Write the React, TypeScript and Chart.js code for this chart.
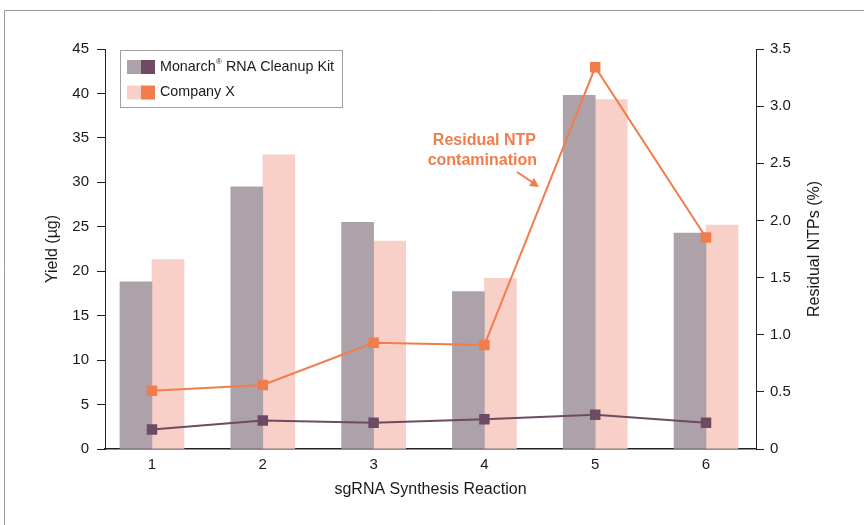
import React, { useEffect, useRef } from 'react';
import { Chart, registerables } from 'chart.js';
Chart.register(...registerables);

const categories = ['1', '2', '3', '4', '5', '6'];
const monarchYield = [18.8, 29.5, 25.5, 17.7, 39.8, 24.3];
const companyXYield = [21.3, 33.1, 23.4, 19.2, 39.3, 25.2];
const monarchNTP = [0.17, 0.25, 0.23, 0.26, 0.30, 0.23];
const companyXNTP = [0.51, 0.56, 0.93, 0.91, 3.34, 1.85];
const seriesNames = ['Monarch RNA Cleanup Kit', 'Company X'];
const xTitle = 'sgRNA Synthesis Reaction';
const yTitle = 'Yield (µg)';
const y1Title = 'Residual NTPs (%)';
const annotationLines = ['Residual NTP', 'contamination'];

const FONT = '"Liberation Sans", Arial, Helvetica, sans-serif';
const C_MON_BAR = '#ada2aa';
const C_MON_LINE = '#6d4b63';
const C_CX_BAR = '#f8d0c8';
const C_CX_LINE = '#f07d4b';

const decorPlugin = {
  id: 'decor',
  afterDraw(chart: any) {
    const ctx = chart.ctx as CanvasRenderingContext2D;
    ctx.save();
    // frame
    ctx.strokeStyle = '#9a9a9a';
    ctx.lineWidth = 1;
    ctx.beginPath();
    ctx.moveTo(4.5, 525);
    ctx.lineTo(4.5, 10.5);
    ctx.lineTo(864, 10.5);
    ctx.stroke();

    // legend
    ctx.strokeStyle = '#a0a0a0';
    ctx.strokeRect(120.5, 50.5, 222, 57);
    const rows = [
      { y: 67, bar: C_MON_BAR, line: C_MON_LINE },
      { y: 92.5, bar: C_CX_BAR, line: C_CX_LINE },
    ];
    rows.forEach((r) => {
      ctx.fillStyle = r.bar;
      ctx.fillRect(127, r.y - 7, 14, 14);
      ctx.fillStyle = r.line;
      ctx.fillRect(141, r.y - 7, 14, 14);
    });
    ctx.fillStyle = '#1a1a1a';
    ctx.textBaseline = 'middle';
    ctx.textAlign = 'left';
    const lf = `14.3px ${FONT}`;
    ctx.font = lf;
    let x = 160;
    const first = 'Monarch';
    ctx.fillText(first, x, rows[0].y);
    x += ctx.measureText(first).width + 0.5;
    ctx.font = `8px ${FONT}`;
    ctx.fillText('®', x, rows[0].y - 5);
    x += ctx.measureText('®').width;
    ctx.font = lf;
    ctx.fillText(seriesNames[0].replace('Monarch', ''), x, rows[0].y);
    ctx.fillText(seriesNames[1], 160, rows[1].y);

    // right axis title
    ctx.save();
    ctx.translate(815, 249);
    ctx.rotate(-Math.PI / 2);
    ctx.textAlign = 'center';
    ctx.font = `16px ${FONT}`;
    ctx.fillStyle = '#1a1a1a';
    ctx.fillText(y1Title, 0, 0);
    ctx.restore();

    // annotation
    ctx.fillStyle = C_CX_LINE;
    ctx.font = `bold 16px ${FONT}`;
    ctx.textAlign = 'right';
    ctx.fillText(annotationLines[0], 536, 141);
    ctx.fillText(annotationLines[1], 537, 161);
    // arrow
    ctx.strokeStyle = C_CX_LINE;
    ctx.lineWidth = 2;
    ctx.beginPath();
    ctx.moveTo(517, 172);
    ctx.lineTo(532, 182);
    ctx.stroke();
    ctx.beginPath();
    ctx.moveTo(539, 187);
    ctx.lineTo(529, 186);
    ctx.lineTo(534, 178);
    ctx.closePath();
    ctx.fill();
    ctx.restore();
  },
};

export default function App() {
  const ref = useRef<HTMLCanvasElement>(null);
  useEffect(() => {
    if (!ref.current) return;
    const xs = categories.map((_, i) => i + 1);
    const chart = new Chart(ref.current, {
      type: 'bar',
      data: {
        datasets: [
          {
            type: 'line',
            label: seriesNames[0] + ' NTP',
            data: xs.map((x, i) => ({ x, y: monarchNTP[i] })),
            yAxisID: 'y1',
            borderColor: C_MON_LINE,
            backgroundColor: C_MON_LINE,
            borderWidth: 2,
            pointStyle: 'rect',
            pointRadius: 6,
            tension: 0,
            order: 0,
          } as any,
          {
            type: 'line',
            label: seriesNames[1] + ' NTP',
            data: xs.map((x, i) => ({ x, y: companyXNTP[i] })),
            yAxisID: 'y1',
            borderColor: C_CX_LINE,
            backgroundColor: C_CX_LINE,
            borderWidth: 2,
            pointStyle: 'rect',
            pointRadius: 6,
            tension: 0,
            order: 0,
          } as any,
          {
            type: 'bar',
            label: seriesNames[0],
            data: xs.map((x, i) => ({ x, y: monarchYield[i] })),
            yAxisID: 'y',
            backgroundColor: C_MON_BAR,
            barThickness: 32,
            order: 1,
          },
          {
            type: 'bar',
            label: seriesNames[1],
            data: xs.map((x, i) => ({ x, y: companyXYield[i] })),
            yAxisID: 'y',
            backgroundColor: C_CX_BAR,
            barThickness: 32,
            order: 1,
          },
        ],
      },
      options: {
        animation: false,
        responsive: false,
        layout: { padding: { left: 0, right: 0, top: 49, bottom: 0 } },
        plugins: { legend: { display: false }, tooltip: { enabled: false } },
        scales: {
          x: {
            type: 'linear',
            min: 0.576,
            max: 6.451,
            offset: false,
            grid: { display: false, drawTicks: false, tickLength: 0, offset: false },
            border: { display: true, color: '#222', width: 1.5 },
            afterBuildTicks: (scale: any) => {
              scale.ticks = xs.map((v) => ({ value: v }));
            },
            afterFit: (scale: any) => {
              scale.height = 76;
            },
            ticks: {
              padding: 7,
              color: '#1a1a1a',
              font: { family: FONT, size: 15 },
              callback: (v: any) => categories[Math.round(Number(v)) - 1] ?? '',
              maxRotation: 0,
              autoSkip: false,
            },
            title: {
              display: true,
              text: xTitle,
              color: '#1a1a1a',
              font: { family: FONT, size: 16 },
              padding: { top: 0, bottom: 26 },
            },
          },
          y: {
            position: 'left',
            min: 0,
            max: 45,
            grid: { drawOnChartArea: false, drawTicks: true, tickLength: 8, color: '#222' },
            border: { display: true, color: '#222', width: 1 },
            afterFit: (scale: any) => {
              scale.width = 105;
            },
            ticks: {
              stepSize: 5,
              padding: 8,
              color: '#1a1a1a',
              font: { family: FONT, size: 15 },
            },
            title: {
              display: true,
              text: yTitle,
              color: '#1a1a1a',
              font: { family: FONT, size: 16 },
              padding: { top: 43, bottom: 0 },
            },
          },
          y1: {
            position: 'right',
            min: 0,
            max: 3.5,
            grid: { drawOnChartArea: false, drawTicks: true, tickLength: 8, color: '#222' },
            border: { display: true, color: '#222', width: 1 },
            afterFit: (scale: any) => {
              scale.width = 108;
            },
            ticks: {
              stepSize: 0.5,
              padding: 6,
              color: '#1a1a1a',
              font: { family: FONT, size: 15 },
              callback: (v: any) => (Number(v) === 0 ? '0' : Number(v).toFixed(1)),
            },
          },
        },
      },
      plugins: [decorPlugin],
    });
    return () => chart.destroy();
  }, []);
  return (
    <div style={{ position: 'fixed', left: 0, top: 0, width: 864, height: 525, background: '#fff' }}>
      <canvas ref={ref} width={864} height={525} style={{ display: 'block', width: 864, height: 525 }} />
    </div>
  );
}
